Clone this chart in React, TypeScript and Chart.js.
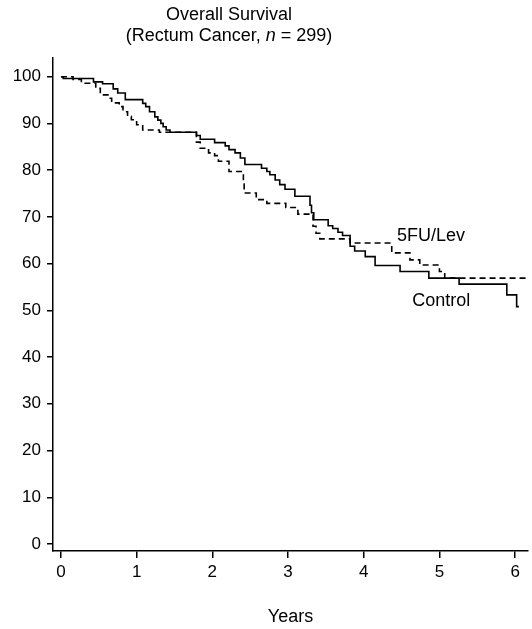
import React, { useEffect, useRef } from "react";
import { Chart, registerables } from "chart.js";

Chart.register(...registerables);

// ---- Data ----
const controlTimes = [0, 0.03, 0.43, 0.55, 0.69, 0.75, 0.85, 1.08, 1.12, 1.17, 1.24, 1.28, 1.32, 1.35, 1.39, 1.44, 1.79, 1.84, 2.03, 2.17, 2.22, 2.3, 2.37, 2.43, 2.65, 2.72, 2.76, 2.83, 2.89, 2.96, 3.09, 3.29, 3.31, 3.34, 3.53, 3.59, 3.66, 3.72, 3.82, 3.88, 4.02, 4.15, 4.48, 4.86, 5.26, 5.89, 6.02, 6.05];
const controlSurvival = [100, 99.6, 98.9, 98.5, 97.4, 96.5, 95.1, 94.3, 93.6, 92.5, 91.4, 90.7, 90.0, 89.3, 88.6, 88.1, 87.4, 86.6, 85.9, 85.2, 84.4, 83.7, 82.6, 81.2, 80.4, 79.7, 79.0, 77.9, 76.9, 75.9, 74.4, 72.5, 70.9, 69.4, 68.1, 67.5, 66.7, 66.0, 63.7, 62.7, 61.5, 59.6, 58.3, 56.9, 55.6, 53.3, 50.8, 50.8];

const fuLevTimes = [0, 0.16, 0.27, 0.46, 0.52, 0.62, 0.67, 0.77, 0.82, 0.88, 0.93, 1.0, 1.08, 1.3, 1.79, 1.84, 1.95, 2.03, 2.08, 2.22, 2.41, 2.42, 2.58, 2.72, 2.97, 3.13, 3.33, 3.37, 3.42, 3.82, 4.37, 4.61, 4.74, 5.0, 5.07, 6.16];
const fuLevSurvival = [100, 99.4, 98.6, 97.5, 96.1, 95.4, 94.4, 93.6, 92.5, 91.5, 90.8, 89.7, 88.6, 88.1, 86.0, 84.7, 83.7, 83.1, 81.9, 79.7, 77.0, 75.1, 73.7, 72.9, 72.0, 70.6, 68.0, 66.5, 65.3, 64.4, 62.3, 60.8, 59.7, 58.3, 56.9, 56.9];

const xTicks = [0, 1, 2, 3, 4, 5, 6];
const yTicks = [0, 10, 20, 30, 40, 50, 60, 70, 80, 90, 100];

const titleLine1 = "Overall Survival";
const titleLine2Parts = [
  { text: "(Rectum Cancer, ", italic: false },
  { text: "n", italic: true },
  { text: " = 299)", italic: false },
];
const xAxisTitle = "Years";
const seriesNames = ["Control", "5FU/Lev"];

// label anchors in data units (years, %)
const controlLabelAt = { t: 4.64, s: 51.0 };
const fuLevLabelAt = { t: 4.44, s: 64.9 };

const FONT_FAMILY = '"Liberation Sans", Arial, Helvetica, sans-serif';
const FS = 18;
const TICK_FS = 17;

const annotationPlugin = {
  id: "annotations",
  afterDraw(chart: any) {
    const { ctx, scales } = chart;
    const xs = scales.x;
    const ys = scales.y;
    ctx.save();
    ctx.fillStyle = "#000";
    ctx.textBaseline = "alphabetic";
    // Title line 1
    ctx.font = `${FS}px ${FONT_FAMILY}`;
    ctx.textAlign = "center";
    const cx = 229;
    ctx.fillText(titleLine1, cx, 20);
    // Title line 2 with italic n
    ctx.textAlign = "left";
    const fonts = titleLine2Parts.map((p) => `${p.italic ? "italic " : ""}${FS}px ${FONT_FAMILY}`);
    const widths = titleLine2Parts.map((p, i) => {
      ctx.font = fonts[i];
      return ctx.measureText(p.text).width;
    });
    const total = widths.reduce((a, b) => a + b, 0);
    let x = cx - total / 2;
    titleLine2Parts.forEach((p, i) => {
      ctx.font = fonts[i];
      ctx.fillText(p.text, x, 41);
      x += widths[i];
    });
    // Series labels
    ctx.font = `${FS}px ${FONT_FAMILY}`;
    ctx.fillText(seriesNames[1], xs.getPixelForValue(fuLevLabelAt.t), ys.getPixelForValue(fuLevLabelAt.s));
    ctx.fillText(seriesNames[0], xs.getPixelForValue(controlLabelAt.t), ys.getPixelForValue(controlLabelAt.s));
    ctx.restore();
  },
};

export default function App() {
  const canvasRef = useRef<HTMLCanvasElement | null>(null);

  useEffect(() => {
    if (!canvasRef.current) return;
    const tickFont = { family: FONT_FAMILY, size: TICK_FS };
    const titleFont = { family: FONT_FAMILY, size: FS };
    const chart = new Chart(canvasRef.current, {
      type: "line",
      data: {
        datasets: [
          {
            label: seriesNames[1],
            data: fuLevTimes.map((t, i) => ({ x: t, y: fuLevSurvival[i] })),
            stepped: true,
            borderColor: "#000",
            borderWidth: 1.6,
            borderDash: [6, 4],
            pointRadius: 0,
            fill: false,
          },
          {
            label: seriesNames[0],
            data: controlTimes.map((t, i) => ({ x: t, y: controlSurvival[i] })),
            stepped: true,
            borderColor: "#000",
            borderWidth: 1.6,
            pointRadius: 0,
            fill: false,
          },
        ],
      },
      options: {
        animation: false,
        responsive: false,
        layout: { padding: { top: 58, right: 4, left: 0, bottom: 0 } },
        plugins: {
          legend: { display: false },
          title: { display: false },
          tooltip: { enabled: false },
        },
        scales: {
          x: {
            type: "linear",
            min: -0.105,
            max: 6.17,
            afterBuildTicks: (s: any) => {
              s.ticks = xTicks.map((v) => ({ value: v }));
            },
            afterFit: (s: any) => {
              s.height = 78;
            },
            grid: { drawOnChartArea: false, drawTicks: true, tickLength: 7, color: "#000", lineWidth: 1.5 },
            border: { display: true, color: "#000", width: 1.5 },
            ticks: { color: "#000", font: tickFont, padding: 4, maxRotation: 0, autoSkip: false },
            title: { display: true, text: xAxisTitle, color: "#000", font: titleFont, padding: { top: 0, bottom: 1 } },
          },
          y: {
            type: "linear",
            min: -1.5,
            max: 104,
            afterBuildTicks: (s: any) => {
              s.ticks = yTicks.map((v) => ({ value: v }));
            },
            afterFit: (s: any) => {
              s.width = 53;
            },
            grid: { drawOnChartArea: false, drawTicks: true, tickLength: 6, color: "#000", lineWidth: 1.5 },
            border: { display: true, color: "#000", width: 1.5 },
            ticks: { color: "#000", font: tickFont, padding: 6, autoSkip: false },
          },
        },
      },
      plugins: [annotationPlugin],
    });
    return () => chart.destroy();
  }, []);

  return (
    <div style={{ position: "absolute", left: 0, top: 0, width: 532, height: 629, background: "#fff" }}>
      <canvas ref={canvasRef} width={532} height={629} />
    </div>
  );
}
